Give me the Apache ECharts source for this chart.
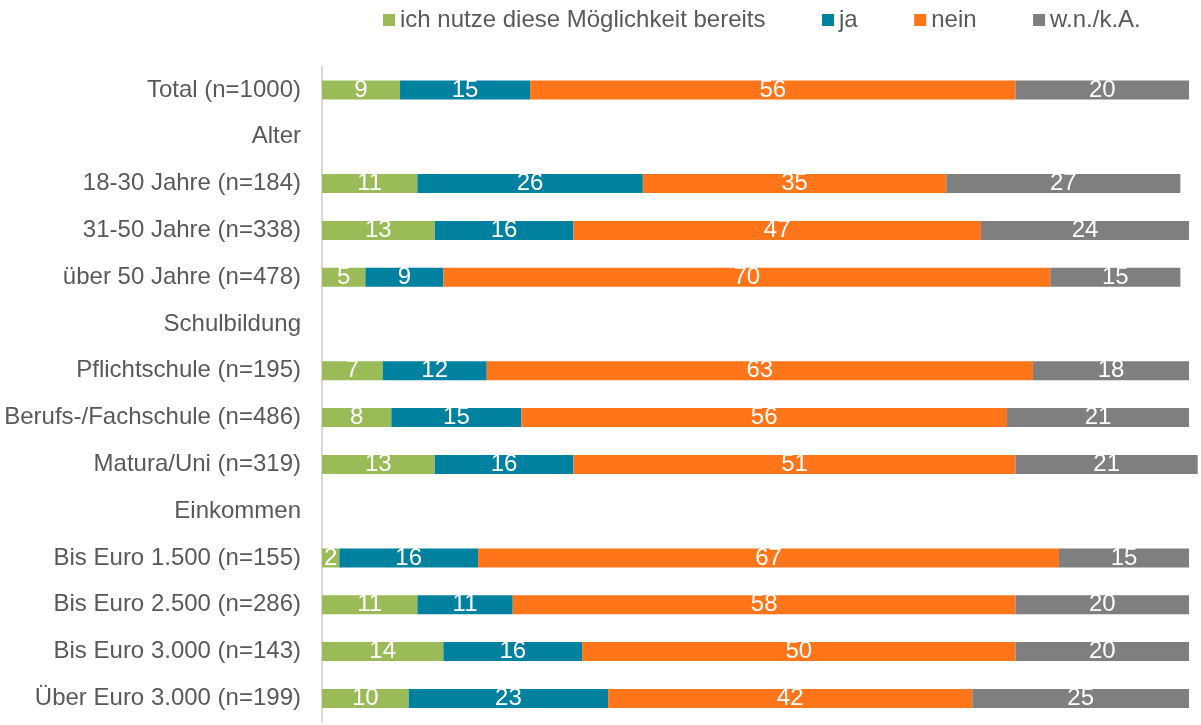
<!DOCTYPE html>
<html>
<head>
<meta charset="utf-8">
<script src="https://cdn.jsdelivr.net/npm/echarts@6/dist/echarts.min.js"></script>
<style>
	html, body { margin: 0; padding: 0; background: #fff; }
	#chart { width: 1201px; height: 725px; }
</style>
</head>
<body>
<div id="chart"></div>
<script>
// categories top to bottom, header rows have no values
var categories = ['Total (n=1000)', 'Alter', '18-30 Jahre (n=184)', '31-50 Jahre (n=338)', 'über 50 Jahre (n=478)',
	'Schulbildung', 'Pflichtschule (n=195)', 'Berufs-/Fachschule (n=486)', 'Matura/Uni (n=319)',
	'Einkommen', 'Bis Euro 1.500 (n=155)', 'Bis Euro 2.500 (n=286)', 'Bis Euro 3.000 (n=143)', 'Über Euro 3.000 (n=199)'];
var seriesNames = ['ich nutze diese Möglichkeit bereits', 'ja', 'nein', 'w.n./k.A.'];
var bereits = [9, '-', 11, 13, 5, '-', 7, 8, 13, '-', 2, 11, 14, 10];
var ja = [15, '-', 26, 16, 9, '-', 12, 15, 16, '-', 16, 11, 16, 23];
var nein = [56, '-', 35, 47, 70, '-', 63, 56, 51, '-', 67, 58, 50, 42];
var wnka = [20, '-', 27, 24, 15, '-', 18, 21, 21, '-', 15, 20, 20, 25];
var colors = ['#9bbb59', '#00819f', '#ff7519', '#7f7f7f'];

var font = 'Liberation Sans, Arial, sans-serif';
var values = [bereits, ja, nein, wnka];
var series = [];
for (var i = 0; i < values.length; i++) {
	series.push({
		name: seriesNames[i],
		type: 'bar',
		stack: 'total',
		barWidth: 19,
		data: values[i],
		itemStyle: { color: colors[i] },
		label: {
			show: true,
			position: 'inside',
			color: '#fff',
			fontFamily: font,
			fontSize: 24
		}
	});
}

var option = {
	backgroundColor: '#fff',
	color: colors,
	animation: false,
	legend: {
		left: 383,
		top: 8,
		padding: 0,
		itemWidth: 12,
		itemHeight: 12,
		itemGap: 56.5,
		icon: 'rect',
		textStyle: { color: '#595959', fontFamily: font, fontSize: 24 },
		data: seriesNames
	},
	grid: {
		left: 322,
		right: 3.3,
		top: 66.6,
		bottom: 3.2,
		containLabel: false
	},
	xAxis: {
		type: 'value',
		min: 0,
		max: 101,
		show: false
	},
	yAxis: {
		type: 'category',
		inverse: true,
		data: categories,
		axisLine: { show: true, lineStyle: { color: '#d9d9d9', width: 2 } },
		axisTick: { show: false },
		axisLabel: {
			margin: 21,
			color: '#595959',
			fontFamily: font,
			fontSize: 24
		}
	},
	series: series
};

var myChart = echarts.init(document.getElementById('chart'));
myChart.setOption(option);
</script>
</body>
</html>
